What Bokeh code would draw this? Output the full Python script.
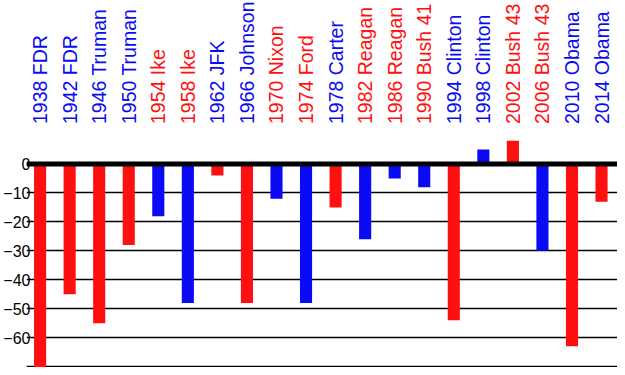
from math import pi
from bokeh.plotting import figure
from bokeh.models import ColumnDataSource, Range1d, FixedTicker, Span
from bokeh.core.properties import value
from bokeh.embed import file_html
from bokeh.resources import INLINE

# Midterm elections: year + president
labels = ["1938 FDR", "1942 FDR", "1946 Truman", "1950 Truman", "1954 Ike",
          "1958 Ike", "1962 JFK", "1966 Johnson", "1970 Nixon", "1974 Ford",
          "1978 Carter", "1982 Reagan", "1986 Reagan", "1990 Bush 41",
          "1994 Clinton", "1998 Clinton", "2002 Bush 43", "2006 Bush 43",
          "2010 Obama", "2014 Obama"]
# President's party (label colour)
president_party = ["D", "D", "D", "D", "R", "R", "D", "D", "R", "R",
                   "D", "R", "R", "R", "D", "D", "R", "R", "D", "D"]
# Seat change for the president's party
seat_change = [-72, -45, -55, -28, -18, -48, -4, -48, -12, -48,
               -15, -26, -5, -8, -54, 5, 8, -30, -63, -13]
# Y ticks
y_ticks = [0, -10, -20, -30, -40, -50, -60, -70]

RED = "#ff1010"
BLUE = "#0a0af5"
party_color = {"D": BLUE, "R": RED}
other = {"D": "R", "R": "D"}

label_colors = [party_color[pp] for pp in president_party]
# bar colour = party that gained seats
bar_colors = [party_color[pp] if v > 0 else party_color[other[pp]]
              for pp, v in zip(president_party, seat_change)]
xs = list(range(len(labels)))

src = ColumnDataSource(dict(x=xs, val=seat_change, label=labels,
                            lc=label_colors, bc=bar_colors))

FONT = "Liberation Sans"

p = figure(width=617, height=367, output_backend="svg", toolbar_location=None,
           x_range=Range1d(-0.46, 19.54), y_range=Range1d(-70.3, 56.5),
           x_axis_location=None, min_border_left=0, min_border_right=0,
           min_border_top=0, min_border_bottom=0)
p.outline_line_color = None
p.background_fill_color = "white"
p.border_fill_color = "white"

p.vbar(x="x", top="val", bottom=0, width=0.41, source=src,
       fill_color="bc", line_color=None)

p.text(x="x", y=0, text="label", source=src, angle=pi / 2,
       y_offset=-40, text_align="left", text_baseline="middle",
       text_color="lc", text_font=value(FONT), text_font_size=value("19.5px"))

zero = Span(location=0, dimension="width", line_color="black", line_width=5)
p.add_layout(zero)

ax = p.yaxis[0]
ax.ticker = FixedTicker(ticks=y_ticks)
ax.major_label_overrides = {-70: ""}
ax.axis_line_color = None
ax.major_tick_line_color = None
ax.minor_tick_line_color = None
ax.major_tick_out = 0
ax.major_tick_in = 0
ax.minor_tick_out = 0
ax.minor_tick_in = 0
ax.major_label_standoff = -4
ax.major_label_text_font = FONT
ax.major_label_text_font_size = "16px"
ax.major_label_text_color = "black"

p.xgrid.grid_line_color = None
p.ygrid.grid_line_color = "black"
p.ygrid.grid_line_width = 1.5
p.ygrid.ticker = FixedTicker(ticks=y_ticks)

open("out.html", "w").write(file_html(p, INLINE))
